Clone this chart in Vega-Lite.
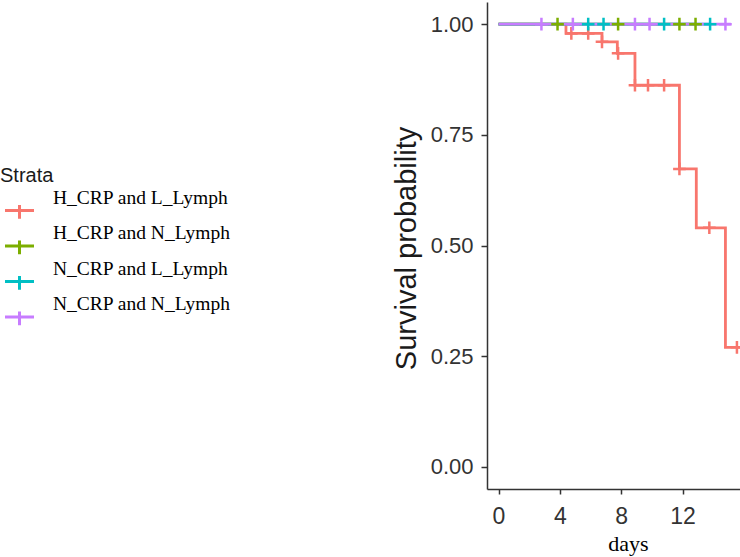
{
  "$schema": "https://vega.github.io/schema/vega-lite/v6.json",
  "autosize": {"type": "none"},
  "padding": {"left": 487, "top": 2, "right": 0, "bottom": 68},
  "width": 253,
  "height": 487,
  "background": "white",
  "config": {"view": {"stroke": null}},
  "datasets": {
    "steps": [
      {"strata": "H_CRP and L_Lymph", "day": 0, "surv": 1},
      {"strata": "H_CRP and L_Lymph", "day": 4.4, "surv": 0.979},
      {"strata": "H_CRP and L_Lymph", "day": 6.75, "surv": 0.96},
      {"strata": "H_CRP and L_Lymph", "day": 7.75, "surv": 0.934},
      {"strata": "H_CRP and L_Lymph", "day": 8.9, "surv": 0.862},
      {"strata": "H_CRP and L_Lymph", "day": 11.8, "surv": 0.673},
      {"strata": "H_CRP and L_Lymph", "day": 12.9, "surv": 0.54},
      {"strata": "H_CRP and L_Lymph", "day": 14.8, "surv": 0.27},
      {"strata": "H_CRP and L_Lymph", "day": 16, "surv": 0.27},
      {"strata": "H_CRP and N_Lymph", "day": 0, "surv": 1},
      {"strata": "H_CRP and N_Lymph", "day": 12.85, "surv": 1},
      {"strata": "N_CRP and L_Lymph", "day": 0, "surv": 1},
      {"strata": "N_CRP and L_Lymph", "day": 13.8, "surv": 1},
      {"strata": "N_CRP and N_Lymph", "day": 0, "surv": 1},
      {"strata": "N_CRP and N_Lymph", "day": 15.15, "surv": 1}
    ],
    "censor": [
      {"strata": "H_CRP and L_Lymph", "day": 4.75, "surv": 0.979},
      {"strata": "H_CRP and L_Lymph", "day": 5.85, "surv": 0.979},
      {"strata": "H_CRP and L_Lymph", "day": 6.75, "surv": 0.96},
      {"strata": "H_CRP and L_Lymph", "day": 7.8, "surv": 0.934},
      {"strata": "H_CRP and L_Lymph", "day": 8.9, "surv": 0.862},
      {"strata": "H_CRP and L_Lymph", "day": 9.75, "surv": 0.862},
      {"strata": "H_CRP and L_Lymph", "day": 10.8, "surv": 0.862},
      {"strata": "H_CRP and L_Lymph", "day": 11.8, "surv": 0.673},
      {"strata": "H_CRP and L_Lymph", "day": 13.75, "surv": 0.54},
      {"strata": "H_CRP and L_Lymph", "day": 15.55, "surv": 0.27},
      {"strata": "H_CRP and N_Lymph", "day": 3.85, "surv": 1},
      {"strata": "H_CRP and N_Lymph", "day": 7.8, "surv": 1},
      {"strata": "H_CRP and N_Lymph", "day": 11.8, "surv": 1},
      {"strata": "H_CRP and N_Lymph", "day": 12.85, "surv": 1},
      {"strata": "N_CRP and L_Lymph", "day": 5.85, "surv": 1},
      {"strata": "N_CRP and L_Lymph", "day": 6.85, "surv": 1},
      {"strata": "N_CRP and L_Lymph", "day": 10.8, "surv": 1},
      {"strata": "N_CRP and L_Lymph", "day": 13.8, "surv": 1},
      {"strata": "N_CRP and N_Lymph", "day": 2.8, "surv": 1},
      {"strata": "N_CRP and N_Lymph", "day": 4.85, "surv": 1},
      {"strata": "N_CRP and N_Lymph", "day": 8.9, "surv": 1},
      {"strata": "N_CRP and N_Lymph", "day": 9.85, "surv": 1},
      {"strata": "N_CRP and N_Lymph", "day": 14.8, "surv": 1}
    ]
  },
  "encoding": {
    "x": {
      "field": "day", "type": "quantitative",
      "scale": {"domain": [-0.75, 15.75], "nice": false, "zero": false},
      "axis": {
        "title": "days", "values": [0, 4, 8, 12], "grid": false,
        "domainColor": "#333333", "domainWidth": 1.5,
        "tickColor": "#333333", "tickWidth": 1.5, "tickSize": 5,
        "labelFont": "Liberation Sans", "labelFontSize": 23, "labelColor": "#333333",
        "labelBaseline": "alphabetic", "labelPadding": 29,
        "titleFont": "Liberation Serif", "titleFontSize": 22, "titleFontWeight": "normal",
        "titleColor": "#000000", "titleX": 141, "titleY": 61.5, "titleBaseline": "alphabetic"
      }
    },
    "y": {
      "field": "surv", "type": "quantitative",
      "scale": {"domain": [-0.05, 1.05], "nice": false, "zero": false},
      "axis": {
        "title": "Survival probability", "values": [0, 0.25, 0.5, 0.75, 1], "format": ".2f", "grid": false,
        "domainColor": "#333333", "domainWidth": 1.5,
        "tickColor": "#333333", "tickWidth": 1.5, "tickSize": 6,
        "labelFont": "Liberation Sans", "labelFontSize": 22, "labelColor": "#333333",
        "labelPadding": 8,
        "titleFont": "Liberation Sans", "titleFontSize": 29, "titleFontWeight": "normal",
        "titleColor": "#1a1a1a", "titleX": -81, "titleY": 246, "titleBaseline": "middle", "titleAngle": -90
      }
    },
    "color": {
      "field": "strata", "type": "nominal",
      "scale": {
        "domain": ["H_CRP and L_Lymph", "H_CRP and N_Lymph", "N_CRP and L_Lymph", "N_CRP and N_Lymph"],
        "range": ["#F8766D", "#7CAE00", "#00BFC4", "#C77CFF"]
      },
      "legend": {
        "title": "Strata", "orient": "none", "legendX": -487, "legendY": 163.5,
        "padding": 0,
        "titleFont": "Liberation Sans", "titleFontSize": 20, "titleFontWeight": "normal", "titleColor": "#1a1a1a",
        "titlePadding": 9,
        "symbolType": "M-1,0H1M0,-0.38V0.57", "symbolSize": 841, "symbolStrokeWidth": 3,
        "symbolFillColor": "transparent", "symbolOffset": 3.5,
        "labelFont": "Liberation Serif", "labelFontSize": 19.5, "labelColor": "#000000",
        "labelOffset": 17.5, "labelLimit": 400, "rowPadding": -2.5,
        "encode": {"labels": {"update": {"dy": {"value": -12.6}}}}
      }
    }
  },
  "layer": [
    {
      "data": {"name": "steps"},
      "mark": {"type": "line", "interpolate": "step-after", "strokeWidth": 2.8, "clip": true}
    },
    {
      "data": {"name": "censor"},
      "mark": {"type": "point", "shape": "M-1,0H1M0,-1V1", "size": 160, "strokeWidth": 2.5, "filled": false, "opacity": 1, "clip": true}
    }
  ]
}
